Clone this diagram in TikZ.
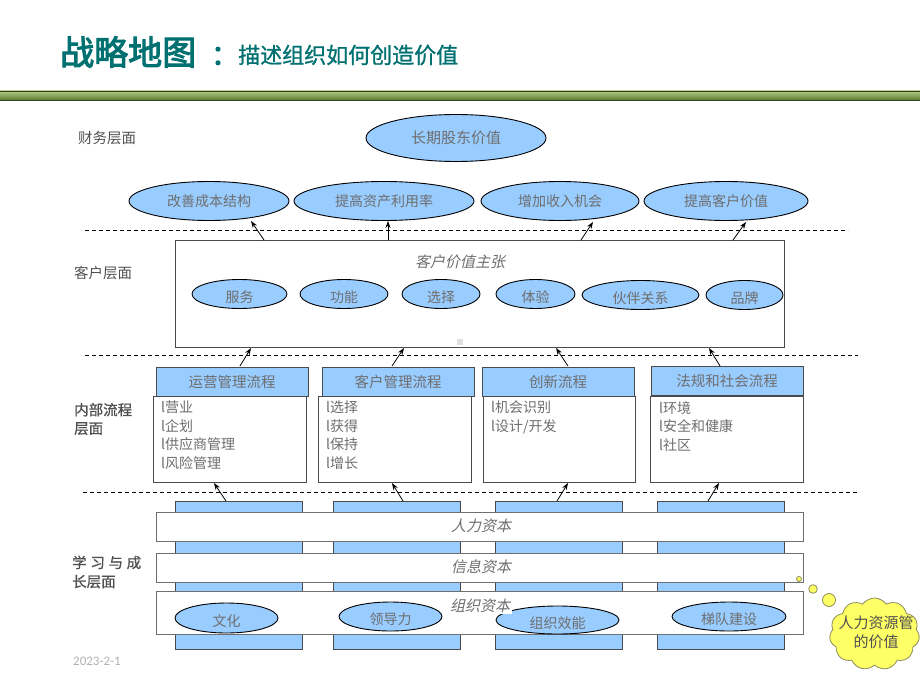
\documentclass[tikz,border=0pt]{standalone}
\usepackage{fontspec}
\setmainfont{Noto Sans CJK SC}
\newfontfamily\cjkit{Noto Sans CJK SC}[FakeSlant=0.22]
\newfontfamily\cjkb{Noto Sans CJK SC}[FakeBold=3]
\newfontfamily\cjkmb{Noto Sans CJK SC}[FakeBold=1]
\newfontfamily\datefont{Carlito}
\usetikzlibrary{shapes.geometric,shapes.symbols,arrows.meta}
\definecolor{teal1}{HTML}{007070}
\definecolor{bluef}{HTML}{99CCFF}
\definecolor{txt}{HTML}{6E6E6E}
\definecolor{lab}{HTML}{505050}
\definecolor{boxd}{HTML}{4A4A4A}
\definecolor{yel}{HTML}{FFFF66}
\definecolor{cloudd}{HTML}{8C8C5A}
\definecolor{gA}{HTML}{B3CC88}
\definecolor{gB}{HTML}{5C7A32}
\newcommand{\lowtxt}[1]{\raisebox{-3pt}[\height][\depth]{#1}}
\tikzset{
  ell/.style={ellipse, draw=black, line width=0.9pt, fill=bluef, inner sep=0pt, text=txt, font=\fontsize{14}{16}\selectfont},
  arr/.style={-{Stealth[length=7pt,width=5pt]}, line width=0.8pt},
  sepline/.style={dashed, dash pattern=on 4pt off 3pt, line width=0.8pt},
  hdr/.style={draw=boxd, line width=1pt, fill=bluef, inner sep=0pt, text=txt, font=\fontsize{14.5}{16}\selectfont},
  bodybox/.style={draw=boxd, line width=1pt, fill=white, inner sep=0pt},
  bodytxt/.style={anchor=north west, inner sep=0pt, align=left, text=txt, font=\fontsize{14}{18.5}\selectfont},
  col/.style={draw=boxd, line width=1pt, fill=bluef, inner sep=0pt, minimum width=127pt, minimum height=148pt},
  bar/.style={draw=boxd!80, line width=1pt, fill=white, inner sep=0pt, minimum width=647pt},
  itl/.style={text=txt, font=\cjkit\fontsize{15}{17}\selectfont, inner sep=1pt},
  layer/.style={anchor=west, inner sep=0pt, align=left, text=lab, font=\fontsize{14.5}{18.5}\selectfont},
  bub/.style={circle, fill=yel, draw=cloudd, line width=0.8pt, inner sep=0pt}
}
\begin{document}
\begin{tikzpicture}[x=1pt,y=-1pt]
\useasboundingbox (0,0) rectangle (920,690);
% title
\node[anchor=west, text=teal1, font=\cjkb\fontsize{34}{36}\selectfont, inner sep=0] (t1) at (60,52) {战略地图};
\node[text=teal1, font=\cjkb\fontsize{28}{30}\selectfont, inner sep=0] (t2) at (225,56) {：};
\node[anchor=west, text=teal1, font=\cjkmb\fontsize{22}{24}\selectfont, inner sep=0] (t3) at (238,55) {描述组织如何创造价值};
% green bar
\shade[top color=gA, bottom color=gB] (0,91) rectangle (920,100);
\draw[gB!60!black, line width=0.8pt] (0,100) -- (920,100);
\draw[gB!50!black, line width=0.5pt] (0,91) -- (920,91);
% layer labels
\node[layer] (L1) at (78,138) {财务层面};
\node[layer] (L2) at (74,273) {客户层面};
\node[layer, font=\cjkmb\fontsize{14.5}{18.5}\selectfont] (L3) at (74,419) {内部流程\\层面};
\node[layer, font=\cjkmb\fontsize{14.5}{19}\selectfont] (L4) at (72,572) {\makebox[69pt][s]{学\hfill 习\hfill 与\hfill 成}\\长层面};
\node[anchor=west, inner sep=0, text=gray!60, font=\datefont\fontsize{13}{15}\selectfont] (date) at (73,661) {2023-2-1};
% financial
\node[ell, minimum width=180pt, minimum height=47pt, font=\fontsize{15}{17}\selectfont] (f0) at (456,138) {长期股东价值};
\node[ell, minimum width=160pt, minimum height=39pt] (f1) at (209,201) {改善成本结构};
\node[ell, minimum width=180pt, minimum height=39pt] (f2) at (384,201) {提高资产利用率};
\node[ell, minimum width=158pt, minimum height=39pt] (f3) at (560,201) {增加收入机会};
\node[ell, minimum width=164pt, minimum height=39pt] (f4) at (726,201) {提高客户价值};
% separators
\coordinate (s1a) at (85,230.5); \coordinate (s1b) at (848,230.5);
\coordinate (s2a) at (85,355.5); \coordinate (s2b) at (858,355.5);
\coordinate (s3a) at (83,492); \coordinate (s3b) at (858,492);
\draw[sepline] (s1a) -- (s1b);
\draw[sepline] (s2a) -- (s2b);
\draw[sepline] (s3a) -- (s3b);
% customer box
\node[draw=boxd, line width=1pt, minimum width=609pt, minimum height=107pt, inner sep=0] (cbox) at (479.5,293.5) {};
\node[itl] (cvp) at (460,262) {客户价值主张};
\node[fill=gray!25, minimum size=6pt, inner sep=0] (sq) at (460,342) {};
\node[ell, minimum width=95pt, minimum height=29pt] (c1) at (239.5,294) {\lowtxt{服务}};
\node[ell, minimum width=88pt, minimum height=29pt] (c2) at (344,294) {\lowtxt{功能}};
\node[ell, minimum width=78pt, minimum height=29pt] (c3) at (441,294) {\lowtxt{选择}};
\node[ell, minimum width=79pt, minimum height=29pt] (c4) at (535.5,294) {\lowtxt{体验}};
\node[ell, minimum width=117pt, minimum height=29pt] (c5) at (640.5,295) {\lowtxt{伙伴关系}};
\node[ell, minimum width=77pt, minimum height=29pt] (c6) at (744.5,295) {\lowtxt{品牌}};
% arrows customer -> financial
\coordinate (a1t) at (264,240); \coordinate (a1h) at (251,221);
\coordinate (a2t) at (388,240); \coordinate (a2h) at (388,221);
\coordinate (a3t) at (581,240); \coordinate (a3h) at (593,222);
\coordinate (a4t) at (733,240); \coordinate (a4h) at (746,222);
\draw[arr] (a1t) -- (a1h);
\draw[arr] (a2t) -- (a2h);
\draw[arr] (a3t) -- (a3h);
\draw[arr] (a4t) -- (a4h);
% process bodies
\node[bodybox, minimum width=153pt, minimum height=86pt] (b1) at (229.5,439) {};
\node[bodybox, minimum width=153pt, minimum height=86pt] (b2) at (394.5,439) {};
\node[bodybox, minimum width=152pt, minimum height=86pt] (b3) at (559,439) {};
\node[bodybox, minimum width=153pt, minimum height=86pt] (b4) at (726.5,439) {};
\node[hdr, minimum width=152pt, minimum height=29pt] (h1) at (232,381.5) {运营管理流程};
\node[hdr, minimum width=152pt, minimum height=29pt] (h2) at (398,381.5) {客户管理流程};
\node[hdr, minimum width=152pt, minimum height=29pt] (h3) at (558,381.5) {创新流程};
\node[hdr, minimum width=152pt, minimum height=29pt] (h4) at (727,380.5) {法规和社会流程};
\node[bodytxt] (bt1) at (161,401) {l营业\\l企划\\l供应商管理\\l风险管理};
\node[bodytxt] (bt2) at (326,401) {l选择\\l获得\\l保持\\l增长};
\node[bodytxt] (bt3) at (491,401) {l机会识别\\l设计/开发};
\node[bodytxt] (bt4) at (659,401) {l环境\\l安全和健康\\l社区};
% arrows process -> customer
\coordinate (p1t) at (240,366); \coordinate (p1h) at (251,348);
\coordinate (p2t) at (392,366); \coordinate (p2h) at (404,348);
\coordinate (p3t) at (568,366); \coordinate (p3h) at (556,348);
\coordinate (p4t) at (720,366); \coordinate (p4h) at (709,348);
\draw[arr] (p1t) -- (p1h);
\draw[arr] (p2t) -- (p2h);
\draw[arr] (p3t) -- (p3h);
\draw[arr] (p4t) -- (p4h);
% learning
\node[col] (k1) at (238.5,575) {};
\node[col] (k2) at (396.5,575) {};
\node[col] (k3) at (558.5,575) {};
\node[col] (k4) at (720.5,575) {};
\node[bar, minimum height=29pt] (r1) at (479.5,526.5) {};
\node[bar, minimum height=29pt] (r2) at (479.5,567.5) {};
\node[bar, minimum height=43pt] (r3) at (479.5,612.5) {};
\node[itl] (r1t) at (481,526) {人力资本};
\node[itl] (r2t) at (481,567) {信息资本};
\node[ell, minimum width=103pt, minimum height=30pt] (o1) at (226.5,618) {\lowtxt{文化}};
\node[ell, minimum width=103pt, minimum height=29pt] (o2) at (390.5,616.5) {\lowtxt{领导力}};
\node[ell, minimum width=123pt, minimum height=28pt] (o3) at (557.5,620) {\lowtxt{组织效能}};
\node[ell, minimum width=114pt, minimum height=29pt] (o4) at (729,616.5) {\lowtxt{梯队建设}};
\node[itl, fill=white, inner sep=1.5pt] (r3t) at (480,606) {组织资本};
% arrows learning -> process
\coordinate (l1t) at (226,501); \coordinate (l1h) at (214,483);
\coordinate (l2t) at (403,501); \coordinate (l2h) at (392,483);
\coordinate (l3t) at (557,501); \coordinate (l3h) at (568,483);
\coordinate (l4t) at (708,501); \coordinate (l4h) at (719,483);
\draw[arr] (l1t) -- (l1h);
\draw[arr] (l2t) -- (l2h);
\draw[arr] (l3t) -- (l3h);
\draw[arr] (l4t) -- (l4h);
% thought bubble
\node[bub, minimum size=5pt] (q1) at (799,579) {};
\node[bub, minimum size=8.6pt] (q2) at (813,589) {};
\node[bub, minimum size=13pt] (q3) at (829,600) {};
\node[cloud, cloud puffs=11, cloud puff arc=110, aspect=1.25, fill=yel, draw=cloudd, line width=0.8pt, minimum width=90pt, minimum height=72pt, inner sep=0] (cl) at (874.5,634) {};
\node[align=center, inner sep=0, text=lab, font=\fontsize{15}{19}\selectfont] (clt) at (876,632) {人力资源管\\的价值};
\end{tikzpicture}
\end{document}
